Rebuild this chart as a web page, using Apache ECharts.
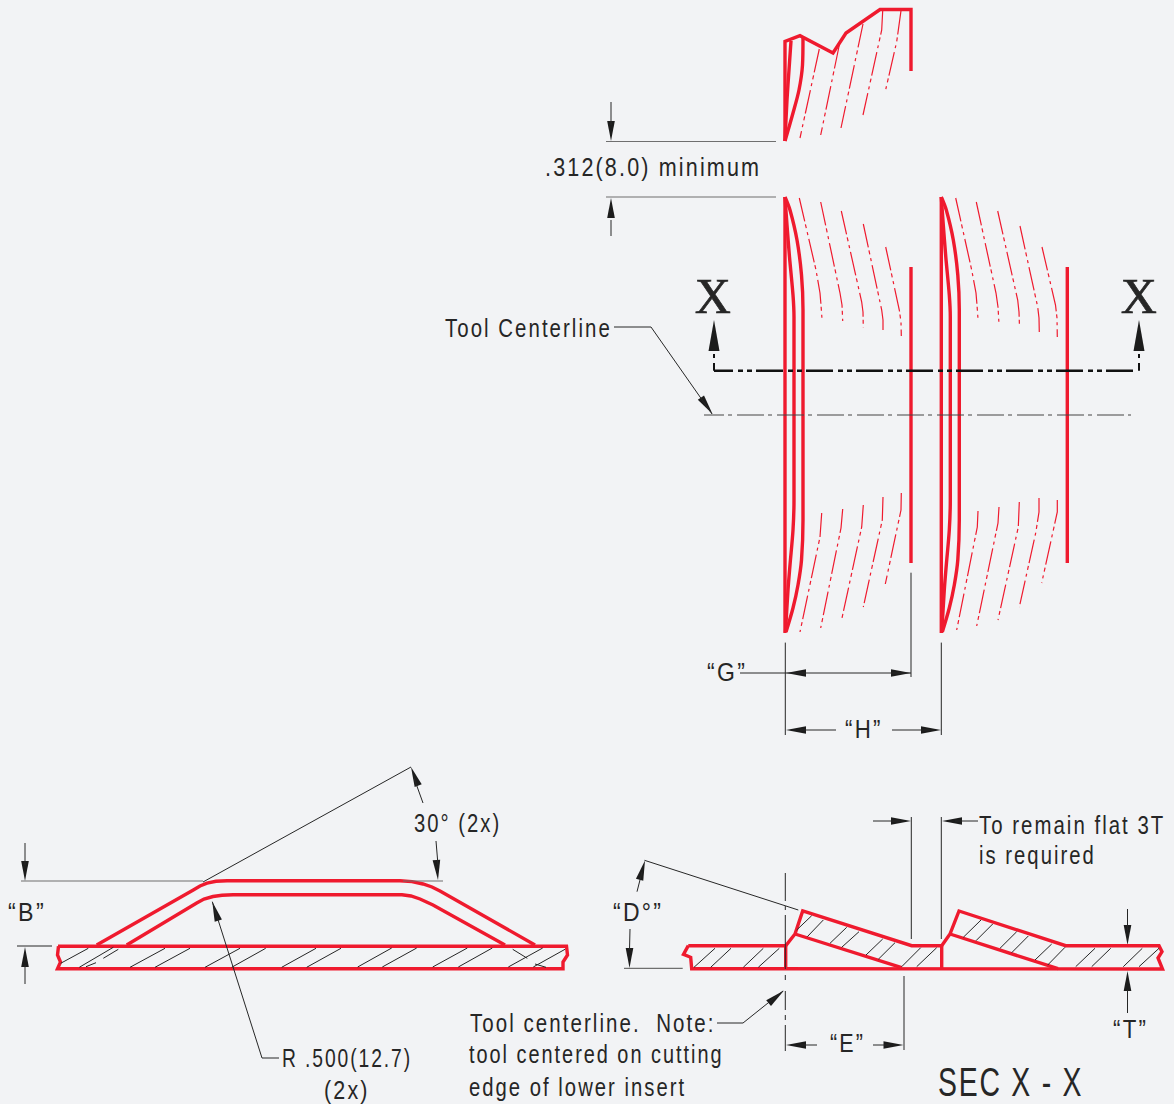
<!DOCTYPE html>
<html>
<head>
<meta charset="utf-8">
<style>
html,body{margin:0;padding:0;background:#f2f3f5;}
#chart{width:1174px;height:1104px;}
#chart text{letter-spacing:2.5px;}
</style>
<script src="https://cdn.jsdelivr.net/npm/echarts@6/dist/echarts.min.js"></script>
</head>
<body>
<div id="chart"></div>
<script>
// Drawing geometry (x, y in drawing units)
const topOutline = [[[785,141],[785,41.5],[800,35.7],[833,53],[846,33],[880,9.5],[911,9.5],[911,71]]];
const topCurves = [
  [[785,141],[787,100],[789,70],[791,41]],
  [[785,141],[793,113],[799,90],[802.5,65],[803,37]]
];
const topFins = [
  [[819.3,49],[800,138]],
  [[839.3,45],[820.7,135]],
  [[863,24],[841,128]],
  [[882.7,10.7],[881.7,30],[863,115]],
  [[901,10.7],[896.7,41.7],[885,92.7]]
];
const upperFins = [
  [[799.3,198],[816,270],[820,293],[821,305],[822,319]],
  [[820.7,202],[840,293],[842,305],[842.7,321]],
  [[841.3,211],[861.7,302],[863,312],[863.3,328]],
  [[863.3,224],[881.7,310],[883,320],[883,333]],
  [[885.7,247],[899.3,310],[901,322],[901.3,336]],
  [[955.7,198],[971.7,270],[976,293],[977,305],[978,319]],
  [[976.3,202],[996,293],[998,307],[999,324]],
  [[997.7,211],[1017.7,300],[1019,312],[1019.5,327]],
  [[1020,226],[1037.7,307],[1039,318],[1039.3,333]],
  [[1042,247],[1055.5,305],[1057,318],[1057.3,337]]
];
const lowerFins = [
  [[821.7,513],[820,537],[800,632]],
  [[842.7,509],[841,528],[820.7,628]],
  [[863.3,505],[861.7,527],[842,618]],
  [[883,497],[882.3,520],[863.3,607]],
  [[901.3,493],[901,510],[885.3,584]],
  [[978,511],[977.3,527],[956.7,630]],
  [[999,507],[998,523],[976.7,626]],
  [[1019.3,502],[1018.3,527],[998,620]],
  [[1039,498],[1039,512],[1035.7,533],[1019.3,607]],
  [[1057.3,500],[1057.3,512],[1041.7,583]]
];
const finStraight = [
  [[785,197],[785,633]],[[911,267],[911,563]],
  [[941.3,197],[941.3,633]],[[1067.3,267],[1067.3,563]]
];
const finCurves = [
  [[785,197],[787,225],[789.5,257],[793,295],[794,317],[794,500],[793,530],[790,565],[788,590],[785.5,632]],
  [[785,197],[790,210],[797,240],[801.5,275],[803,310],[803,520],[801.5,560],[798,585],[793,608],[786,632]],
  [[941.3,197],[943.3,225],[945.8,257],[949.3,295],[950.3,317],[950.3,500],[949.3,530],[946.3,565],[944.3,590],[941.8,632]],
  [[941.3,197],[946.3,210],[953.3,240],[957.8,275],[959.3,310],[959.3,520],[957.8,560],[954.3,585],[949.3,608],[942.3,632]]
];
const bumpOutlines = [
  [[58,946.3],[566.5,946.3],[567.5,955],[563,962],[563,968.7],[57.5,968.7],[60.5,962],[57.5,955],[58.5,946.3]],
  [[96.7,945],[193.3,890],[200,886],[207,883.2],[216,881.3],[227,880.7],[400,880.7],[412,881.6],[423,884],[432,887],[440,891],[535,945]],
  [[126.7,945],[196.7,903],[204,899],[213,896.5],[222,895.2],[233,894.7],[402,894.7],[411,896],[420,899],[433,905],[505,945]]
];
const sectionOutlines = [
  [[688.3,945.7],[785.7,945.7],[795,934],[802.7,911],[911.7,945.7],[941.7,945.7],[950,934],[959,911],[1065.7,945.7],[1159,945.7],[1162,951.7],[1158,958],[1162.5,969],[691.7,968.7],[690.7,957.3],[683.5,954.3],[688.3,945.7]],
  [[795,934],[901.7,967.7]],
  [[950,934],[1058,968.7]],
  [[785.7,945.7],[785.7,968.7]],
  [[941.7,945.7],[941.7,968.7]]
];
const bumpHatch = [
  [[60.7,963.3],[88.3,948.3]],[[79.3,967.3],[113.3,947.3]],[[103.3,958.3],[118.3,949.3]],[[86,966.7],[96,962.7]],
  [[130,967.3],[165,948.3]],[[155,967.3],[190,948.3]],[[205,967.3],[240,948.3]],[[231.7,967.3],[265.7,948.3]],
  [[281.7,967.3],[316,948.3]],[[306.7,967.3],[341,948.3]],[[357.7,967],[391.7,948]],[[382.3,967],[416.7,948]],
  [[432.7,967],[467.3,948]],[[458.3,967],[492.3,948]],[[508.3,967],[542.7,948]],[[533.3,967],[565,949.3]],
  [[512.7,949.3],[527.3,958.3]],[[535,964],[546,967.3]]
];
const sectionHatch = [
  [[694,967.3],[715,948.3]],[[710.7,967.3],[731,948.3]],[[743.3,967.3],[763.3,948.3]],[[758.3,967.3],[779.3,948.3]],
  [[796.7,930],[811.7,915.7]],[[807.3,936.7],[823.3,920]],[[830,943.3],[846.7,927.3]],[[841.7,947.3],[859,931.7]],
  [[866,955],[882.7,939]],[[878.3,959.3],[895,942.7]],[[901.7,966.7],[920.7,947.7]],[[916.7,966.7],[936.7,947.7]],
  [[963.3,937.3],[981,920]],[[976,940.7],[992.7,924]],[[1000,948.3],[1016.7,931.7]],[[1011.7,952.7],[1028.3,936]],
  [[1035,960],[1051.7,944]],[[1047.7,965],[1065,947.3]],[[1075.7,966.7],[1095,948.3]],[[1091.7,966.7],[1110.7,948.3]],
  [[1123.3,966.7],[1142.3,948.3]],[[1139,966.7],[1159,948.3]]
];
const dimensionLines = [
  [[611,102],[611,125]],[[611,220],[611,236]],
  [[614,327],[651,327],[712,414]],
  [[740,673],[911,673]],[[785.3,642.6],[785.3,735]],[[911,572.7],[911,677]],[[941.3,642.6],[941.3,735]],
  [[800,730],[836,730]],[[892,730],[930,730]],
  [[203,882],[411,767]],[[423,803],[414,778]],[[436,841],[438,865]],
  [[25,843],[25,865]],[[25,965],[25,984]],[[17,946],[52,946]],
  [[212.3,901.7],[262,1058],[279,1058]],
  [[644.5,860.3],[798.3,910]],[[637,891.7],[642,872]],[[630,929],[629.5,950]],
  [[911.3,817],[911.3,939]],[[941.3,817],[941.3,939]],
  [[873,821],[900,821]],[[955,821],[978,821]],
  [[1127.5,909],[1127.5,930]],[[1127.5,990],[1127.5,1013]],
  [[904,976],[904,1050]],
  [[800,1045],[817,1045]],[[873,1045],[890,1045]],
  [[717,1023],[743,1023],[783,991]],
  [[785.3,873],[785.3,901]],[[785.3,906],[785.3,910]],[[785.3,915],[785.3,969]],[[785.3,975],[785.3,980]],
  [[785.3,991],[785.3,1010]],[[785.3,1015],[785.3,1020]],[[785.3,1025],[785.3,1051]]
];
const greyLines = [
  [[606,141.5],[776,141.5]],[[606,197],[776,197]],
  [[21,881],[203,881]],[[403,881],[443,881]],
  [[624,968.3],[682.7,968.3]]
];
const centerLine = [[704,415],[1131,415]];
const sectionLine = [[714,370.7],[1138,370.7]];
const sectionStubs = [
  [[714,354],[714,358]],[[714,363],[714,370.7]],
  [[1139,354],[1139,358]],[[1139,363],[1139,370.7]]
];
// tip x, tip y, direction x, direction y
const arrowHeads = [
  [611,141,0,1],[611,198,0,-1],[712.5,414,0.58,0.82],
  [786,673,-1,0],[911,673,1,0],[786,730,-1,0],[941,730,1,0],
  [411,767,-0.36,-0.93],[438,880,0.08,1],[25,881,0,1],[25,947,0,-1],
  [212.3,901.7,-0.3,-0.95],[645,860.5,0.27,-0.96],[629.5,968,0,1],
  [911,821,1,0],[942,821,-1,0],[1127.5,945,0,1],[1127.5,971,0,-1],
  [786,1045,-1,0],[903.5,1045,1,0],[784,990.5,0.77,-0.63]
];
const sectionArrowHeads = [[714,320,0,-1],[1139,320,0,-1]];
const bodyLabels = [
  [545,167,'.312(8.0) minimum'],[445,328,'Tool Centerline'],
  [707,672,'“G”'],[845,730,'“H”'],
  [414,823,'30° (2x)'],[8,912,'“B”'],[613,912,'“D°”'],
  [282,1059,'R .500(12.7)'],[324,1090,'(2x)'],
  [979,825,'To remain flat 3T'],[979,855,'is required'],
  [470,1023,'Tool centerline.  Note:'],[469,1055,'tool centered on cutting'],[469,1087,'edge of lower insert'],
  [830,1043,'“E”'],[1113,1030,'“T”']
];
const bodyStretch = [.862,.817,.92,.89,.81,.93,.92,.77,.86,.815,.81,.82,.796,.81,.86,.89];
const markLabels = [[714,296,'X'],[1140,296,'X']];
const titleLabels = [[938,1082,'SEC X - X']];

const RED='#ef1a2e', INK='#262626', GREY='#6f6f6f';
function lines(list, color, width, extra){
  return list.map(pts => Object.assign({
    type:'line', data:pts, showSymbol:false, silent:true, clip:false, animation:false,
    lineStyle:Object.assign({color:color,width:width,join:'miter',cap:'butt'}, extra&&extra.style)
  }, extra&&extra.smooth?{smooth:extra.smooth}:{}));
}
const finDash={style:{type:[24,3,4,4,3,4]}};
function arrowSeries(list, len, half){
  return {type:'custom', data:list, silent:true, clip:false, animation:false, coordinateSystem:'cartesian2d',
    renderItem:(p,api)=>{
      const tip=api.coord([api.value(0),api.value(1)]), dx=api.value(2), dy=api.value(3);
      const b=[tip[0]-dx*len, tip[1]-dy*len];
      return {type:'polygon', shape:{points:[tip,[b[0]-dy*half,b[1]+dx*half],[b[0]+dy*half,b[1]-dx*half]]}, style:{fill:'#1c1c1c'}};
    }};
}
function textSeries(list, font, anchor, stretch, strokeWidth){
  return {type:'custom', data:list.map(r=>[r[0],r[1],r[2]]), silent:true, clip:false, animation:false,
    coordinateSystem:'cartesian2d', dimensions:['x','y',{name:'t',type:'ordinal'}],
    renderItem:(p,api)=>{
      const c=api.coord([api.value(0),api.value(1)]);
      const s=stretch?stretch[p.dataIndex]:1;
      return {type:'text', x:c[0], y:c[1], scaleX:s, style:Object.assign({text:list[p.dataIndex][2], font:font, fill:INK, align:anchor, verticalAlign:'middle'},
        strokeWidth?{stroke:INK,lineWidth:strokeWidth}:{})};
    }};
}
const series=[].concat(
  lines(upperFins,RED,1.2,finDash), lines(lowerFins,RED,1.2,finDash), lines(topFins,RED,1.2,finDash),
  lines(topCurves,RED,3.4,{smooth:0.3}), lines(finCurves,RED,3.4,{smooth:0.3}),
  lines(topOutline,RED,3.4), lines(finStraight,RED,3.4),
  lines(bumpOutlines,RED,3.4), lines(sectionOutlines,RED,3.4),
  lines(bumpHatch,INK,1), lines(sectionHatch,INK,1), lines(dimensionLines,INK,1),
  lines(greyLines,GREY,1.2),
  lines([centerLine],'#444',1.1,{style:{type:[27,4,4,5],dashOffset:7}}),
  lines([sectionLine],'#111',2.6,{style:{type:[27,5,5,4,5,4],dashOffset:8}}),
  lines(sectionStubs,'#111',2),
  [arrowSeries(arrowHeads,20,3.8), arrowSeries(sectionArrowHeads,31,5.5),
   textSeries(bodyLabels,'25px "Liberation Sans"','left',bodyStretch),
   textSeries(markLabels,'50px "Liberation Serif"','center',null,0.7),
   textSeries(titleLabels,'40px "Liberation Sans"','left',[0.71])]
);
const chart=echarts.init(document.getElementById('chart'),null,{renderer:'svg'});
chart.setOption({
  backgroundColor:'#f2f3f5', animation:false,
  grid:{left:0,right:0,top:0,bottom:0},
  xAxis:{type:'value',min:0,max:1174,show:false},
  yAxis:{type:'value',min:0,max:1104,inverse:true,show:false},
  tooltip:{show:false}, legend:{show:false},
  series:series
});
</script>
</body>
</html>
